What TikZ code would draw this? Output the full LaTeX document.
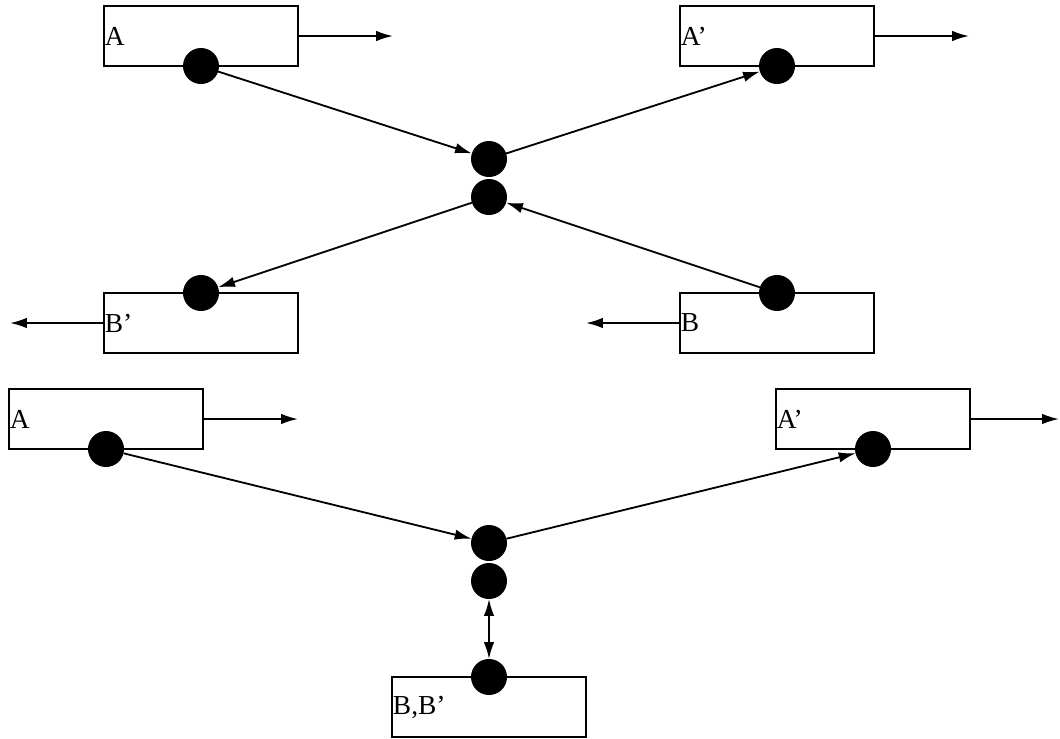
\documentclass[tikz,border=0pt]{standalone}
\usepackage{fontspec}
\setmainfont{Liberation Serif}
\usepackage{tikz}
\usetikzlibrary{positioning,arrows.meta}
\tikzset{
procbox/.style = {draw, line width=1.3pt, minimum width=4.85cm, minimum height=1.5cm, inner sep=0pt, outer sep=0pt},
port/.style = {circle, fill=black, minimum size=#1, inner sep=0pt, outer sep=0pt},
port/.default = 0.9cm, % diameter of the port dot
boxlabel/.style = {anchor=west, inner sep=0.5pt, font=\fontsize{19.5}{23}\selectfont},
flow/.style = {line width=1.3pt, -{Latex[length=4.2mm,width=2.6mm]}},
biflow/.style = {line width=1.3pt, {Latex[length=4.2mm,width=2.6mm]}-{Latex[length=4.2mm,width=2.6mm]}}
}

\begin{document}
\begin{tikzpicture}[x=0.025cm, y=-0.025cm]
      \useasboundingbox (0,0) rectangle (1060,738);
      % upper part
      \node [procbox] (A1) at (201,36) {};
      \node [boxlabel] (A1l) at (A1.west) {A};
      \node [port] (pA1) at (A1.south) {};
      \node [procbox] (A2) at (777,36) {};
      \node [boxlabel] (A2l) at (A2.west) {A'};
      \node [port] (pA2) at (A2.south) {};
      \node [procbox] (B2) at (201,323) {};
      \node [boxlabel] (B2l) at (B2.west) {B'};
      \node [port] (pB2) at (B2.north) {};
      \node [procbox] (B1) at (777,323) {};
      \node [boxlabel] (B1l) at (B1.west) {B};
      \node [port] (pB1) at (B1.north) {};
      \node [port] (cU) at (489,159) {};
      \node [port] (cL) at (489,197) {};
      \coordinate (oA1) at (393,36);
      \coordinate (oA2) at (969,36);
      \coordinate (oB2) at (10,323);
      \coordinate (oB1) at (586,323);
      \draw [flow] (A1.east) -- (oA1);
      \draw [flow] (A2.east) -- (oA2);
      \draw [flow] (B2.west) -- (oB2);
      \draw [flow] (B1.west) -- (oB1);
      \draw [flow] (pA1) -- (cU);
      \draw [flow] (cU) -- (pA2);
      \draw [flow] (pB1) -- (cL);
      \draw [flow] (cL) -- (pB2);
      % lower part
      \node [procbox] (C1) at (106,419) {};
      \node [boxlabel] (C1l) at (C1.west) {A};
      \node [port] (pC1) at (C1.south) {};
      \node [procbox] (C2) at (873,419) {};
      \node [boxlabel] (C2l) at (C2.west) {A'};
      \node [port] (pC2) at (C2.south) {};
      \node [procbox] (D) at (489,707) {};
      \node [boxlabel] (Dl) at (D.west) {B,B'};
      \node [port] (pD) at (D.north) {};
      \node [port] (dU) at (489,543) {};
      \node [port] (dL) at (489,581) {};
      \coordinate (oC1) at (298,419);
      \coordinate (oC2) at (1059,419);
      \draw [flow] (C1.east) -- (oC1);
      \draw [flow] (C2.east) -- (oC2);
      \draw [flow] (pC1) -- (dU);
      \draw [flow] (dU) -- (pC2);
      \draw [biflow] (dL) -- (pD);
\end{tikzpicture}
\end{document}
